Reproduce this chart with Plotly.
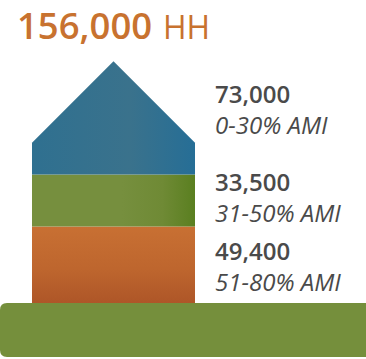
import plotly.graph_objects as go

bands = ["51-80% AMI", "31-50% AMI", "0-30% AMI"]
households = [49400, 33500, 73000]
value_labels = ["49,400", "33,500", "73,000"]
total_label = "156,000"
unit_label = "HH"

HH_PER_PX = 645
W, H = 366, 359
BASE_PX = 303
LEFT, RIGHT = 32, 195
MID = (LEFT + RIGHT) / 2
WALL_SHARE = 0.28  # share of the top band occupied by the straight wall

y_range = [(BASE_PX - H) * HH_PER_PX, BASE_PX * HH_PER_PX]


def y_at_px(px):
    return (BASE_PX - px) * HH_PER_PX


fig = go.Figure()

b0 = 0
b1 = households[0]
b2 = b1 + households[1]
b3 = b2 + households[2]
eave = b2 + households[2] * WALL_SHARE

fig.add_trace(go.Scatter(
    x=[LEFT, RIGHT, RIGHT, LEFT, LEFT], y=[b0, b0, b1, b1, b0],
    mode="lines", line=dict(width=0), fill="toself", name=bands[0],
    fillgradient=dict(type="vertical", colorscale=[[0, "#AE5628"], [0.45, "#BE662E"], [1, "#C87033"]]),
))
fig.add_trace(go.Scatter(
    x=[LEFT, RIGHT, RIGHT, LEFT, LEFT], y=[b1, b1, b2, b2, b1],
    mode="lines", line=dict(width=0), fill="toself", name=bands[1],
    fillgradient=dict(type="horizontal", colorscale=[[0, "#768F3E"], [0.55, "#768F3E"], [0.8, "#6F8A35"], [1, "#5A7F20"]]),
))
fig.add_trace(go.Scatter(
    x=[LEFT, RIGHT, RIGHT, MID, LEFT, LEFT], y=[b2, b2, eave, b3, eave, b2],
    mode="lines", line=dict(width=0), fill="toself", name=bands[2],
    fillgradient=dict(type="horizontal", colorscale=[[0, "#2F7090"], [0.6, "#3A728C"], [1, "#266E96"]]),
))

TEXT = "#4A4A4A"
ORANGE = "#C8722F"
FONT = "Open Sans"
label_mid_px = [266, 197, 109]
for i, p in enumerate(label_mid_px):
    fig.add_annotation(x=213, y=y_at_px(p), align="left",
                       text=f'<span style="font-weight:600">{value_labels[i]}</span><br><i>{bands[i]}</i>',
                       showarrow=False, xanchor="left", yanchor="middle", xref="x", yref="y",
                       font=dict(family=FONT, size=24, color=TEXT))

fig.add_annotation(x=14.5, y=y_at_px(25), text=total_label, showarrow=False, xanchor="left", yanchor="middle",
                   font=dict(family=FONT, size=36.5, color=ORANGE, weight=600))
fig.add_annotation(x=161, y=y_at_px(26), text=unit_label, showarrow=False, xanchor="left", yanchor="middle",
                   font=dict(family=FONT, size=32, color=ORANGE))

# Ground slab
r = 7
top, bot = y_at_px(303), y_at_px(357)
ry = r * HH_PER_PX
fig.add_shape(type="path", layer="below", fillcolor="#758F3C", line=dict(width=0),
              path=f"M {W+5} {top} L {r} {top} Q 0 {top} 0 {top-ry} L 0 {bot+ry} Q 0 {bot} {r} {bot} L {W+5} {bot} Z")

fig.update_layout(
    width=W, height=H, margin=dict(l=0, r=0, t=0, b=0), showlegend=False,
    paper_bgcolor="white", plot_bgcolor="white",
    xaxis=dict(range=[0, W], visible=False, fixedrange=True),
    yaxis=dict(range=y_range, visible=False, fixedrange=True),
)
fig.write_html("out.html", config={"displayModeBar": False},
               post_script="document.body.style.margin='0';document.body.style.overflow='hidden';")
